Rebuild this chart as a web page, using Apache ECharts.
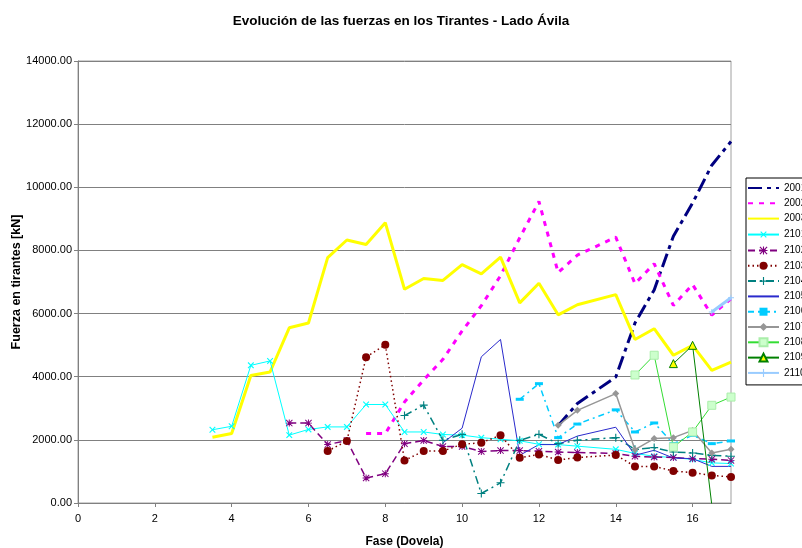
<!DOCTYPE html>
<html>
<head>
<meta charset="utf-8">
<script src="https://cdn.jsdelivr.net/npm/echarts@6/dist/echarts.min.js"></script>
<style>
  html, body { margin: 0; padding: 0; background: #fff; }
  #chart { width: 802px; height: 548px; }
</style>
</head>
<body>
<div id="chart"></div>
<script>
// Fases (dovelas) at which the stay forces were computed
const fases = [3.5, 4, 4.5, 5, 5.5, 6, 6.5, 7, 7.5, 8, 8.5, 9, 9.5, 10, 10.5, 11, 11.5, 12, 12.5, 13, 14, 14.5, 15, 15.5, 16, 16.5, 17];

// Stay forces [kN] per fase; null = stay not yet installed
const t2001 = [null, null, null, null, null, null, null, null, null, null, null, null, null, null, null, null, null, null, 2450, 3150, 3990, 5700, 6750, 8450, 9500, 10700, 11450];
const t2002 = [null, null, null, null, null, null, null, null, 2200, 2200, 3200, 3900, 4550, 5450, 6250, 7200, 8400, 9550, 7300, 7850, 8420, 6950, 7580, 6260, 6920, 5950, 6470];
const t2003 = [2080, 2200, 4040, 4150, 5550, 5700, 7770, 8330, 8190, 8880, 6770, 7110, 7050, 7550, 7260, 7790, 6340, 6960, 5960, 6280, 6600, 5180, 5520, 4680, 4990, 4200, 4460];
const t2101 = [2320, 2430, 4360, 4500, 2150, 2330, 2410, 2410, 3120, 3120, 2250, 2250, 2170, 2150, 2070, 2020, 1970, 1860, 1850, 1800, 1700, 1570, 1480, 1440, 1380, 1270, 1250];
const t2102 = [null, null, null, null, 2530, 2530, 1850, 1980, 790, 930, 1880, 1980, 1790, 1790, 1630, 1660, 1660, 1640, 1615, 1600, 1570, 1480, 1455, 1440, 1405, 1385, 1350];
const t2103 = [null, null, null, null, null, null, 1645, 1965, 4620, 5010, 1350, 1645, 1645, 1860, 1910, 2145, 1435, 1540, 1360, 1440, 1520, 1160, 1160, 1015, 960, 875, 825];
const t2104 = [null, null, null, null, null, null, null, null, null, null, 2770, 3100, 1985, 2175, 300, 640, 1985, 2175, 1880, 1985, 2070, 1700, 1755, 1615, 1585, 1510, 1480];
const t2105 = [null, null, null, null, null, null, null, null, null, null, null, null, 1905, 2370, 4630, 5180, 1510, 1850, 1850, 2120, 2400, 1510, 1670, 1425, 1405, 1160, 1160];
const t2106 = [null, null, null, null, null, null, null, null, null, null, null, null, null, null, null, null, 3285, 3780, 2070, 2500, 2950, 2250, 2535, 1880, 2145, 1880, 1965];
const t2107 = [null, null, null, null, null, null, null, null, null, null, null, null, null, null, null, null, null, null, 2460, 2935, 3465, 1690, 2040, 2070, 2300, 1585, 1700];
const t2108 = [null, null, null, null, null, null, null, null, null, null, null, null, null, null, null, null, null, null, null, null, null, 4055, 4680, 1775, 2250, 3095, 3355];
const t2109 = [null, null, null, null, null, null, null, null, null, null, null, null, null, null, null, null, null, null, null, null, null, null, null, 4415, 4995, -60, -60];
const t2110 = [null, null, null, null, null, null, null, null, null, null, null, null, null, null, null, null, null, null, null, null, null, null, null, null, null, 6050, 6500];

// Axis ranges
const yTicks = [0, 2000, 4000, 6000, 8000, 10000, 12000, 14000];
const xRange = [0, 17];

const FONT = "Arial, 'Liberation Sans', sans-serif";

// Marker shapes drawn as filled outlines
const PLUS = 'path://M4.3,0H5.7V4.3H10V5.7H5.7V10H4.3V5.7H0V4.3H4.3Z';
const STAR = 'path://M4.3,0H5.7V4.3H10V5.7H5.7V10H4.3V5.7H0V4.3H4.3Z M0,1L1,0L10,9L9,10Z M9,0L10,1L1,10L0,9Z';

function pairs(vals) {
  const out = [];
  vals.forEach((v, i) => { if (v !== null) out.push([fases[i], v]); });
  return out;
}

function line(name, vals, color, width, dash, sym) {
  const s = {
    name: name,
    type: 'line',
    data: pairs(vals),
    lineStyle: { color: color, width: width, type: dash || 'solid' },
    // plain lines keep an invisible legend marker
    itemStyle: { color: sym ? color : 'rgba(0,0,0,0)' },
    showAllSymbol: true,
    symbol: 'none',
    emphasis: { disabled: true },
    animation: false
  };
  if (sym) Object.assign(s, sym);
  return s;
}

const series = [
  line('2001', t2001, '#000080', 3, [14, 5, 4, 5]),
  line('2002', t2002, '#FF00FF', 3, [5, 6]),
  line('2003', t2003, '#FFFF00', 3),
  line('2101', t2101, '#00FFFF', 1, null, { symbol: PLUS, symbolRotate: 45, symbolSize: 8 }),
  line('2102', t2102, '#800080', 1.5, [7, 4], { symbol: STAR, symbolSize: 7 }),
  line('2103', t2103, '#800000', 1.5, [1.5, 3], { symbol: 'circle', symbolSize: 8 }),
  line('2104', t2104, '#008080', 1.5, [8, 4, 2, 4], { symbol: PLUS, symbolSize: 8 }),
  line('2105', t2105, '#2A2ACC', 1),
  line('2106', t2106, '#00CCFF', 1.5, [6, 4, 2, 4], { symbol: 'rect', symbolSize: [8, 3] }),
  line('2107', t2107, '#969696', 1.5, null, { symbol: 'diamond', symbolSize: 7 }),
  line('2108', t2108, '#33DD33', 1, null, { symbol: 'rect', symbolSize: 8, itemStyle: { color: '#CCFFCC', borderColor: '#AAEEAA', borderWidth: 1 } }),
  line('2109', t2109, '#008000', 1, null, { symbol: 'triangle', symbolSize: 8, itemStyle: { color: '#FFFF00', borderColor: '#008000', borderWidth: 1 } }),
  line('2110', t2110, '#99CCFF', 3, null, { symbol: PLUS, symbolSize: 6 })
];

const chart = echarts.init(document.getElementById('chart'), null, { renderer: 'canvas' });
chart.setOption({
  animation: false,
  backgroundColor: '#ffffff',
  textStyle: { fontFamily: FONT },
  title: {
    text: 'Evolución de las fuerzas en los Tirantes - Lado Ávila',
    left: 'center',
    top: 9,
    textStyle: { fontFamily: FONT, fontSize: 13.5, fontWeight: 'bold', color: '#000' }
  },
  grid: {
    left: 78, right: 71, top: 61, bottom: 45,
    containLabel: false,
    outerBoundsMode: 'none',
    show: true, borderColor: '#A0A0A0', borderWidth: 1
  },
  legend: {
    orient: 'vertical',
    left: 746,
    top: 178,
    itemWidth: 31,
    itemHeight: 10,
    itemGap: 5.3,
    padding: [5, 30, 7, 1],
    borderColor: '#000',
    borderWidth: 1,
    selectedMode: false,
    textStyle: { fontFamily: FONT, fontSize: 10, color: '#000' },
    data: series.map(s => s.name)
  },
  xAxis: {
    type: 'value',
    min: xRange[0],
    max: xRange[1],
    interval: 2,
    name: 'Fase (Dovela)',
    nameLocation: 'middle',
    nameGap: 33,
    nameMoveOverlap: false,
    nameTextStyle: { fontFamily: FONT, fontSize: 12, fontWeight: 'bold', color: '#000' },
    axisLine: { lineStyle: { color: '#808080', width: 1 } },
    axisTick: { show: true, length: 4, lineStyle: { color: '#808080' } },
    axisLabel: { fontFamily: FONT, fontSize: 11, color: '#000', margin: 10, showMaxLabel: false },
    splitLine: { show: false }
  },
  yAxis: {
    type: 'value',
    min: yTicks[0],
    max: yTicks[yTicks.length - 1],
    interval: yTicks[1] - yTicks[0],
    name: 'Fuerza en tirantes [kN]',
    nameLocation: 'middle',
    nameGap: 55,
    nameMoveOverlap: false,
    nameTextStyle: { fontFamily: FONT, fontSize: 12.5, fontWeight: 'bold', color: '#000' },
    axisLine: { show: true, lineStyle: { color: '#808080', width: 1 } },
    axisTick: { show: true, length: 4, lineStyle: { color: '#808080' } },
    axisLabel: { fontFamily: FONT, fontSize: 11, color: '#000', margin: 6, formatter: v => v.toFixed(2) },
    splitLine: { show: true, lineStyle: { color: '#808080', width: 1 } }
  },
  series: series
});
</script>
</body>
</html>
